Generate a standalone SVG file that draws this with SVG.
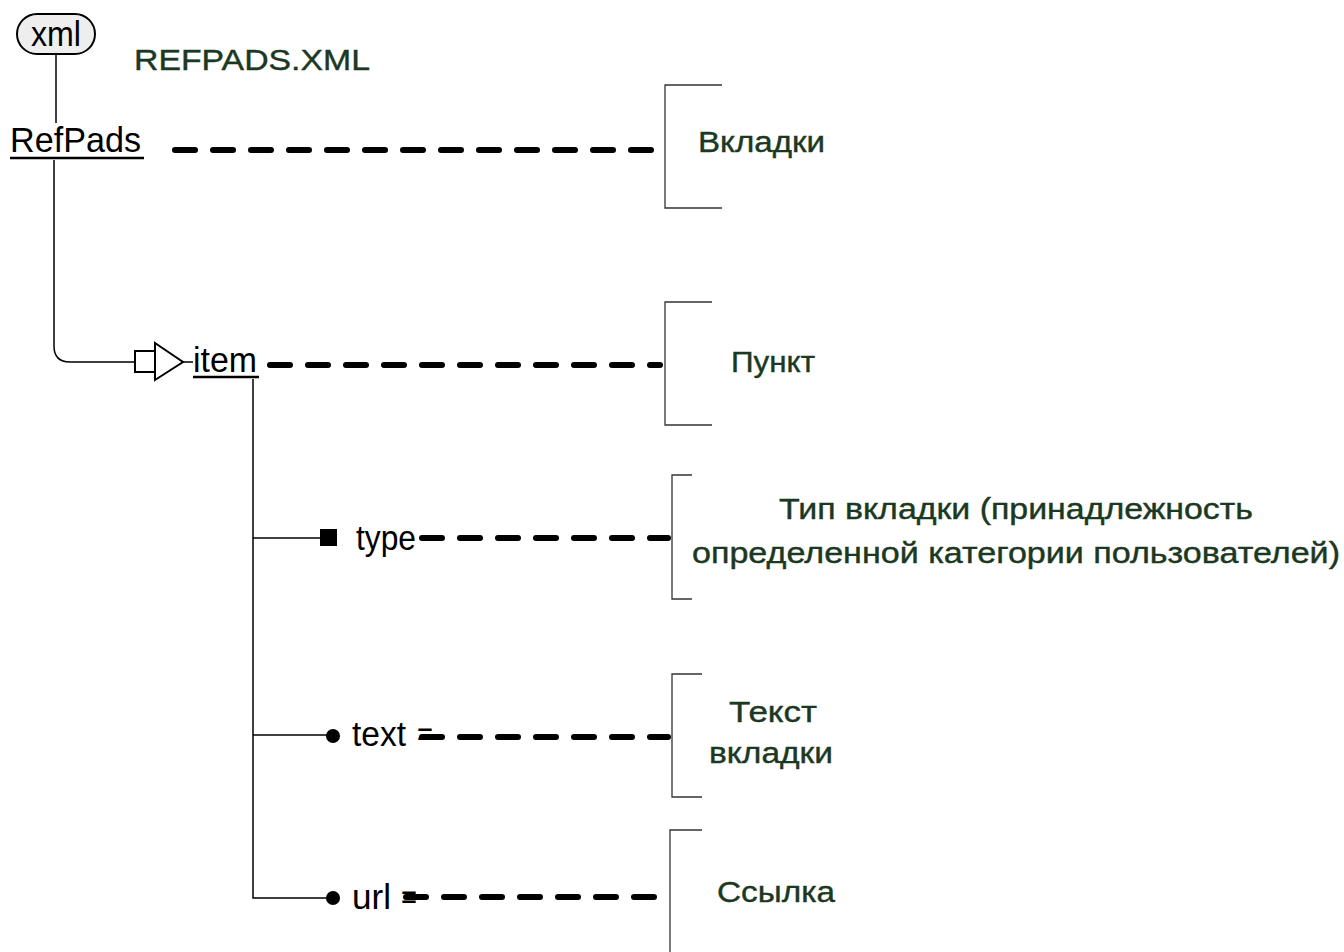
<svg xmlns="http://www.w3.org/2000/svg" width="1344" height="952" viewBox="0 0 1344 952">
<style>
.lbl{font-family:"Liberation Sans",Arial,sans-serif;font-size:35px;fill:#000}
.note{font-family:"Liberation Sans",Arial,sans-serif;font-size:29px;fill:#1b3822;stroke:#1b3822;stroke-width:0.4}
.thin{stroke:#000;stroke-width:1.5;fill:none}
.dash{stroke:#000;stroke-width:6;stroke-dasharray:20 18;stroke-linecap:round;fill:none}
.br{stroke:#333;stroke-width:1.3;fill:none}
</style>
<rect width="1344" height="952" fill="#fff"/>
<g id="connectors">
<line class="thin" x1="56" y1="54" x2="56" y2="123"/>
<path class="thin" d="M54 160 V346 Q54 362 70 362 H134"/>
<line class="thin" x1="183" y1="362" x2="193" y2="362"/>
<path class="thin" d="M253 379 V898 H328"/>
<line class="thin" x1="253" y1="538" x2="320" y2="538"/>
<line class="thin" x1="253" y1="735" x2="328" y2="735"/>
<line class="dash" x1="175" y1="150" x2="655" y2="150"/>
<line class="dash" x1="270" y1="365" x2="660" y2="365"/>
<line class="dash" x1="422" y1="538" x2="668" y2="538"/>
<line class="dash" x1="422" y1="737" x2="668" y2="737"/>
<line class="dash" x1="406" y1="897" x2="655" y2="897"/>
</g>
<g id="xml">
<rect x="17" y="14" width="78" height="40" rx="20" fill="#eeeeee" stroke="#000" stroke-width="2"/>
<text class="lbl" x="56" y="46" text-anchor="middle" textLength="50" lengthAdjust="spacingAndGlyphs">xml</text>
</g>
<g id="title">
<text class="note" x="134" y="70" textLength="236" lengthAdjust="spacingAndGlyphs" font-size="31">REFPADS.XML</text>
</g>
<g id="refpads">
<text class="lbl" x="10" y="152" textLength="131" lengthAdjust="spacingAndGlyphs">RefPads</text>
<line x1="10" y1="158" x2="144" y2="158" stroke="#000" stroke-width="2.5"/>
</g>
<g id="item">
<rect x="135" y="351" width="20" height="21" fill="#fff" stroke="#000" stroke-width="2"/>
<path d="M155 343 L183 362 L155 380 Z" fill="#fff" stroke="#000" stroke-width="2"/>
<text class="lbl" x="193" y="372" textLength="64" lengthAdjust="spacingAndGlyphs">item</text>
<line x1="193" y1="377" x2="259" y2="377" stroke="#000" stroke-width="2.5"/>
</g>
<g id="type">
<rect x="320" y="529" width="17" height="17" fill="#000"/>
<text class="lbl" x="356" y="550" textLength="60" lengthAdjust="spacingAndGlyphs">type</text>
</g>
<g id="text">
<circle cx="333" cy="736" r="7" fill="#000"/>
<text class="lbl" x="352" y="746" textLength="54" lengthAdjust="spacingAndGlyphs">text</text>
<text class="lbl" x="417" y="746" textLength="16" lengthAdjust="spacingAndGlyphs">=</text>
</g>
<g id="url">
<circle cx="333" cy="898" r="7" fill="#000"/>
<text class="lbl" x="352" y="909" textLength="39" lengthAdjust="spacingAndGlyphs">url</text>
<text class="lbl" x="401" y="909" textLength="16" lengthAdjust="spacingAndGlyphs">=</text>
</g>
<g id="note-vkladki">
<path class="br" d="M722 85 H665 V208 H722"/>
<text class="note" x="698" y="152" textLength="127" lengthAdjust="spacingAndGlyphs">Вкладки</text>
</g>
<g id="note-punkt">
<path class="br" d="M712 302 H665 V425 H712"/>
<text class="note" x="731" y="372" textLength="84" lengthAdjust="spacingAndGlyphs">Пункт</text>
</g>
<g id="note-type">
<path class="br" d="M692 475 H672 V599 H692"/>
<text class="note" x="779" y="519" textLength="474" lengthAdjust="spacingAndGlyphs">Тип вкладки (принадлежность</text>
<text class="note" x="692" y="563" textLength="648" lengthAdjust="spacingAndGlyphs">определенной категории пользователей)</text>
</g>
<g id="note-text">
<path class="br" d="M702 674 H672 V797 H702"/>
<text class="note" x="729" y="722" textLength="88" lengthAdjust="spacingAndGlyphs">Текст</text>
<text class="note" x="709" y="763" textLength="124" lengthAdjust="spacingAndGlyphs">вкладки</text>
</g>
<g id="note-url">
<path class="br" d="M702 830 H670 V952"/>
<text class="note" x="717" y="902" textLength="118" lengthAdjust="spacingAndGlyphs">Ссылка</text>
</g>
</svg>
